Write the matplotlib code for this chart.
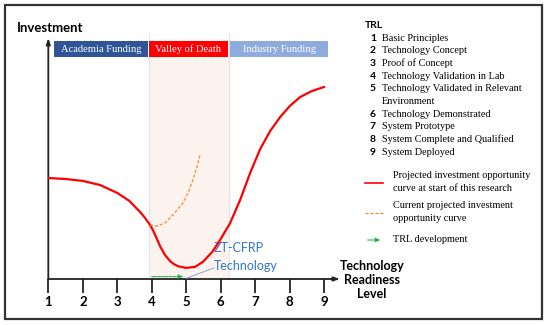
import matplotlib.pyplot as plt
import matplotlib.patches as mpatches

plt.rcParams["font.family"] = ["Lato", "DejaVu Sans"]

# TRL (x) vs investment (0-100, arbitrary)
trl_start = [1.0, 1.5, 2.0, 2.5, 3.0, 3.35, 3.66, 3.8, 3.95, 4.02, 4.09, 4.24,
             4.38, 4.53, 4.65, 4.76, 4.99, 5.25, 5.48, 5.75, 5.98, 6.27, 6.56,
             6.85, 7.14, 7.43, 7.72, 8.0, 8.3, 8.64, 9.0]
inv_start = [41.9, 41.5, 40.7, 39.0, 35.7, 32.4, 27.8, 25.4, 22.4, 20.6, 18.5,
             13.6, 10.0, 7.4, 6.1, 5.3, 4.6, 5.0, 7.1, 11.2, 16.2, 23.2, 32.8,
             44.0, 53.9, 61.4, 67.2, 71.8, 75.5, 78.0, 79.7]

trl_current = [3.95, 4.05, 4.15, 4.38, 4.61, 4.9, 5.05, 5.19, 5.3, 5.4]
inv_current = [22.4, 22.2, 22.0, 23.2, 26.6, 31.5, 35.7, 41.1, 46.1, 51.5]

trl_dev = [4.0, 4.92]

funding_labels = ["Academia Funding", "Valley of Death", "Industry Funding"]
funding_spans = [(1.165, 3.89), (3.92, 6.21), (6.27, 9.11)]
funding_colors = ["#2F5597", "#FF0000", "#8FAADC"]

trl_levels = [1, 2, 3, 4, 5, 6, 7, 8, 9]
trl_names = ["Basic Principles", "Technology Concept", "Proof of Concept",
             "Technology Validation in Lab",
             "Technology Validated in Relevant\nEnvironment",
             "Technology Demonstrated", "System Prototype",
             "System Complete and Qualified", "System Deployed"]

W, H = 550, 325


def fpos(x, y):
    """pixel -> figure fraction"""
    return x / W, 1 - y / H


fig = plt.figure(figsize=(5.5, 3.25), dpi=100)
ax = fig.add_axes([48.3 / W, (H - 279) / H, (340 - 48.3) / W, 241 / H])
ax.set_xlim(1.0, 9.455)
ax.set_ylim(0, 100)
for s in ax.spines.values():
    s.set_visible(False)
ax.set_yticks([])

# valley of death shading
ax.axvspan(3.92, 6.24, ymin=0, ymax=0.99, color="#FDF3EE", zorder=0, lw=0)
for xv in (3.92, 6.24):
    ax.plot([xv, xv], [0, 102], color="#DCE4F1", lw=0.8, zorder=1, clip_on=False)

# funding bars
for lab, (x0, x1), c in zip(funding_labels, funding_spans, funding_colors):
    ax.add_patch(mpatches.Rectangle((x0, 92.1), x1 - x0, 6.7, color=c,
                                    clip_on=False, zorder=3, lw=0))
    ax.text((x0 + x1) / 2, 95.4, lab, color="white", ha="center", va="center",
            fontsize=7.6, family="Liberation Serif", zorder=4)

# axes arrows
arrow_kw = dict(arrowstyle="-|>,head_length=0.35,head_width=0.12",
                color="#222222", lw=1.3, shrinkA=0, shrinkB=0)
ax.annotate("", xy=(0, 1), xytext=(0, 0), xycoords="axes fraction",
            arrowprops=arrow_kw)
ax.annotate("", xy=(1, 0), xytext=(0, 0), xycoords="axes fraction",
            arrowprops=arrow_kw)

ax.set_xticks(trl_levels)
ax.set_xticklabels([str(t) for t in trl_levels], fontweight="bold")
ax.tick_params(axis="x", direction="out", length=10, width=1.3, pad=2,
               labelsize=9.5, color="#222222")

# curves
ax.plot(trl_start, inv_start, color="#FF0000", lw=1.6, zorder=5,
        solid_capstyle="round", solid_joinstyle="round")
ax.plot(trl_current, inv_current, color="#F08A3C", lw=0.9, ls=(0, (2.5, 1.5)),
        zorder=5)
ax.annotate("", xy=(trl_dev[1], 1.0), xytext=(trl_dev[0], 1.0),
            arrowprops=dict(arrowstyle="-|>,head_length=0.25,head_width=0.1",
                            color="#22B04B", lw=0.9, ls=(0, (1, 1)),
                            shrinkA=0, shrinkB=0), zorder=6)

# ZT-CFRP callout
ax.annotate("", xy=(5.0, 0.3), xytext=(5.8, 4.6),
            arrowprops=dict(arrowstyle="-", color="#8FAADC", lw=0.8,
                            shrinkA=0, shrinkB=0))
ax.text(5.8, 12.8, "ZT-CFRP", color="#2E78C8", fontsize=9, ha="left",
        va="center")
ax.text(5.8, 5.4, "Technology", color="#2E78C8", fontsize=9, ha="left",
        va="center")

# axis titles
fig.text(*fpos(17, 28), "Investment", fontsize=9.5, fontweight="bold",
         ha="left", va="center")
fig.text(*fpos(372, 280), "Technology\nReadiness\nLevel", fontsize=9,
         fontweight="bold", ha="center", va="center", linespacing=1.15)

# TRL list
fig.text(*fpos(365, 25), "TRL", fontsize=7.5, fontweight="bold",
         ha="left", va="center")
row = 0
for lvl, name in zip(trl_levels, trl_names):
    y = 38.3 + 12.65 * row
    fig.text(*fpos(376, y), str(lvl), fontsize=7.5, fontweight="bold",
             ha="right", va="center")
    for line in name.split("\n"):
        fig.text(*fpos(381.5, 38.3 + 12.65 * row), line, fontsize=7.4,
                 family="Liberation Serif", ha="left", va="center")
        row += 1

# legend
legend_rows = [
    (183, 176, ["Projected investment opportunity", "curve at start of this research"]),
    (213, 206, ["Current projected investment", "opportunity curve"]),
    (240, 240, ["TRL development"]),
]
x0, y0 = fpos(365, 183)
x1, _ = fpos(383, 183)
fig.add_artist(plt.Line2D([x0, x1], [y0, y0], color="#FF0000", lw=1.2,
                          transform=fig.transFigure))
_, y0 = fpos(365, 213)
fig.add_artist(plt.Line2D([x0, x1], [y0, y0], color="#F08A3C", lw=0.9,
                          ls=(0, (2.5, 1.5)), transform=fig.transFigure))
_, y0 = fpos(365, 240)
fig.add_artist(mpatches.FancyArrowPatch(
    (x0, y0), (x1, y0), transform=fig.transFigure, color="#22B04B", lw=0.9,
    ls=(0, (1, 1)), arrowstyle="-|>,head_length=2.5,head_width=1.2"))
for _, ytext, lines in legend_rows:
    for k, line in enumerate(lines):
        fig.text(*fpos(393, ytext + 12.7 * k), line, fontsize=7.4,
                 family="Liberation Serif", ha="left", va="center")

# outer frame
fig.add_artist(mpatches.Rectangle(fpos(5, 319), 537 / W, 314 / H,
                                  transform=fig.transFigure, fill=False,
                                  edgecolor="#333333", lw=1.6))

fig.savefig("out.png", dpi=100, facecolor="white")
